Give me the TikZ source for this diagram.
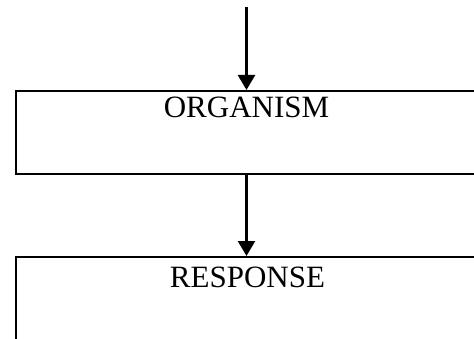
\documentclass[tikz,border=0pt]{standalone}
\usepackage{fontspec}
\setmainfont{Liberation Serif}
\usetikzlibrary{arrows.meta,positioning}

\tikzset{
  blockbox/.style={draw,line width=2.4pt,rectangle,minimum width=500pt,
    minimum height=82.7pt,inner sep=0pt,anchor=north west},
  blocktext/.style={font=\fontsize{31}{36}\selectfont,anchor=base,inner sep=0pt},
  flowarrow/.style={line width=2.4pt,-{Triangle[width=17pt,length=15pt]}}
}

\begin{document}
\begin{tikzpicture}[x=1pt,y=1pt]
          \useasboundingbox (0,0) rectangle (474,338);
          \clip (0,0) rectangle (474,338);
          \coordinate (in) at (246.5,331);
          \node[blockbox] (org) at (14.7,248) {};
          \node[blockbox,minimum height=120pt] (resp) at (14.7,82) {};
          \node[blocktext] (orgtext) at (246.5,220) {ORGANISM};
          \node[blocktext] (resptext) at (247.5,51) {RESPONSE};
          \draw[flowarrow] (in) -- (in |- org.north);
          \draw[flowarrow] (in |- org.south) -- (in |- resp.north);
        \end{tikzpicture}
\end{document}
